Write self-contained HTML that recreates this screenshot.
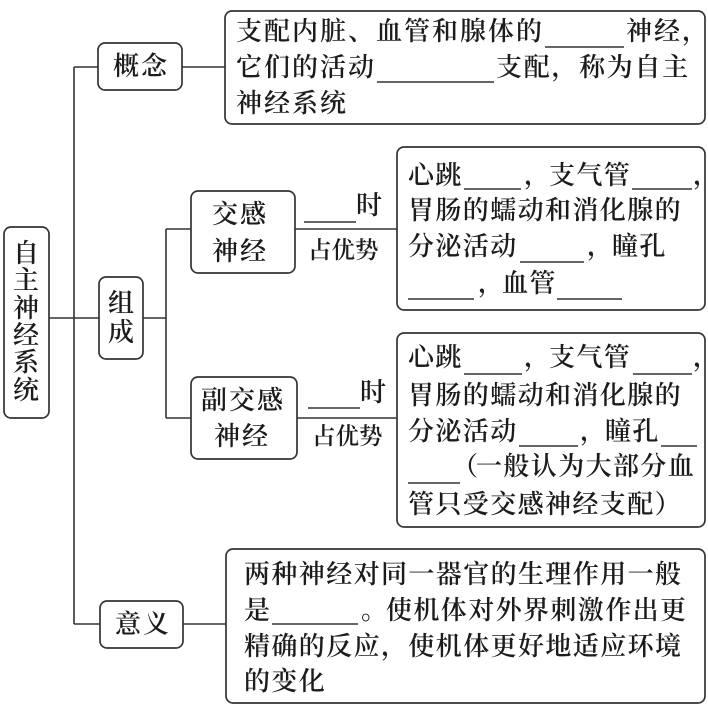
<!DOCTYPE html>
<html>
<head>
<meta charset="utf-8">
<style>
html,body{margin:0;padding:0;background:#fff;}
svg{display:block;filter:blur(0.35px);}
text{font-family:"Liberation Serif","Noto Serif CJK SC",serif;font-weight:600;fill:#1c1c1c;font-size:26px;letter-spacing:1.4px;}
.b{fill:#fff;stroke:#333;stroke-width:1.7;}
.l{fill:none;stroke:#333;stroke-width:1.6;}
.w{letter-spacing:2px;}
.s{font-size:23.5px;letter-spacing:0;}
</style>
</head>
<body>
<svg width="708" height="712" viewBox="0 0 708 712" xmlns="http://www.w3.org/2000/svg">
<!-- connectors -->
<path class="l" d="M49 318H99 M74 67V624 M74 67H98 M74 624H100"/>
<path class="l" d="M182 67H225 M143 318H166 M166 229V418 M166 229H191 M166 418H191"/>
<path class="l" d="M295 229H397 M297 418H397 M183 624H226"/>
<!-- boxes -->
<rect class="b" x="4" y="227" width="45" height="191" rx="7"/>
<rect class="b" x="98" y="43" width="84" height="47" rx="7"/>
<rect class="b" x="99" y="277" width="44" height="82" rx="7"/>
<rect class="b" x="100" y="601" width="83" height="47" rx="7"/>
<rect class="b" x="191" y="191" width="104" height="82" rx="7"/>
<rect class="b" x="191" y="377" width="106" height="82" rx="7"/>
<rect class="b" x="225" y="11" width="480" height="113" rx="7"/>
<rect class="b" x="397" y="147" width="308" height="163" rx="7"/>
<rect class="b" x="397" y="333" width="308" height="194" rx="7"/>
<rect class="b" x="226" y="549" width="479" height="154" rx="7"/>
<!-- left column -->
<text x="13" y="262">自</text>
<text x="13" y="289">主</text>
<text x="13" y="317">神</text>
<text x="13" y="344">经</text>
<text x="13" y="371">系</text>
<text x="13" y="399">统</text>
<text x="113" y="75" class="w">概念</text>
<text x="108" y="312">组</text>
<text x="108" y="341">成</text>
<text x="115" y="633" class="w">意义</text>
<text x="212" y="223" class="w">交感</text>
<text x="212" y="260" class="w">神经</text>
<text x="201" y="409" class="w">副交感</text>
<text x="214" y="445" class="w">神经</text>
<!-- middle labels -->
<path class="l" d="M304 222H356 M308 408H360"/>
<text x="356" y="214">时</text>
<text class="s" x="308" y="258">占优势</text>
<text x="360" y="401">时</text>
<text class="s" x="312" y="444">占优势</text>
<!-- top box -->
<text class="w" x="236" y="40">支配内脏、血管和腺体的</text>
<path class="l" d="M545 47H624"/>
<text class="w" x="626" y="40">神经</text>
<text x="682" y="40">，</text>
<text class="w" x="236" y="76">它们的活动</text>
<path class="l" d="M377 82H494"/>
<text x="496" y="76" style="letter-spacing:1.7px">支配，称为自主</text>
<text class="w" x="236" y="112">神经系统</text>
<!-- sympathetic -->
<text x="408" y="184">心跳</text>
<path class="l" d="M464 189H521 M632 189H692 M520 262H584 M408 299H474 M557 299H622"/>
<text x="524" y="184">，</text>
<text x="549" y="184">支气管</text>
<text x="693" y="184">，</text>
<text x="408" y="219">胃肠的蠕动和消化腺的</text>
<text x="408" y="255">分泌活动</text>
<text x="587" y="255">，</text>
<text x="612" y="255">瞳孔</text>
<text x="478" y="292">，</text>
<text x="502" y="292">血管</text>
<!-- parasympathetic -->
<text x="408" y="366">心跳</text>
<path class="l" d="M464 374H522 M633 374H692 M519 446H578 M661 446H697 M408 483H460"/>
<text x="524" y="366">，</text>
<text x="549" y="366">支气管</text>
<text x="693" y="366">，</text>
<text x="408" y="404">胃肠的蠕动和消化腺的</text>
<text x="408" y="440">分泌活动</text>
<text x="580" y="440">，</text>
<text x="605" y="440">瞳孔</text>
<text x="452" y="475">（</text>
<text x="476" y="475">一般认为大部分血</text>
<text x="408" y="513">管只受交感神经支配）</text>
<!-- meaning -->
<text x="244" y="583">两种神经对同一器官的生理作用一般</text>
<text x="244" y="619">是</text>
<path class="l" d="M272 624H358"/>
<text x="361" y="619">。</text>
<text x="386" y="619">使机体对外界刺激作出更</text>
<text x="244" y="655">精确的反应，使机体更好地适应环境</text>
<text x="244" y="690">的变化</text>
</svg>
</body>
</html>
